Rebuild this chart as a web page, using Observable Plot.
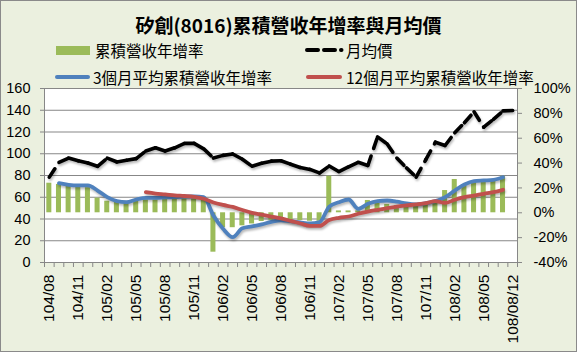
<!DOCTYPE html>
<html><head><meta charset="utf-8">
<script src="https://cdn.jsdelivr.net/npm/d3@7"></script>
<script src="https://cdn.jsdelivr.net/npm/@observablehq/plot@0.6"></script>
<style>
body{margin:0;background:#fff;}
#chart{position:relative;width:577px;height:352px;background:#EBF0DF;overflow:hidden;}
#frame{position:absolute;left:0;top:0;width:575px;height:350px;border:1px solid #8a8a8a;pointer-events:none;}
#title{position:absolute;left:0;width:577px;top:12px;line-height:26px;text-align:center;font-family:"Noto Sans CJK TC";font-weight:bold;font-size:19px;color:#000;}
.lg{position:absolute;font-family:"Noto Sans CJK TC";font-size:15.5px;line-height:20px;color:#000;white-space:nowrap;}
.sw{position:absolute;}
#plot{position:absolute;left:0;top:80px;}
</style>
</head><body>
<div id="chart">
  <div id="title">矽創(8016)累積營收年增率與月均價</div>
  <div class="sw" style="left:56px;top:46px;width:34px;height:9px;background:#9BBB59;"></div>
  <div class="lg" style="left:95px;top:40px;">累積營收年增率</div>
  <svg class="sw" style="left:304px;top:44px;" width="42" height="12"><line x1="3" y1="6" x2="39" y2="6" stroke="#000" stroke-width="4" stroke-linecap="round" stroke-dasharray="11,6,11,6,0.5,10"/></svg>
  <div class="lg" style="left:346px;top:40px;">月均價</div>
  <div class="sw" style="left:55px;top:75px;width:35px;height:4px;border-radius:2px;background:#4F81BD;"></div>
  <div class="lg" style="left:93px;top:67px;">3個月平均累積營收年增率</div>
  <div class="sw" style="left:306px;top:75px;width:36px;height:4px;border-radius:2px;background:#C0504D;"></div>
  <div class="lg" style="left:346px;top:67px;">12個月平均累積營收年增率</div>
  <div id="plot"></div>
  <div id="frame"></div>
</div>
<script>
const months = ["104/08","104/09","104/10","104/11","104/12","105/01","105/02","105/03","105/04","105/05","105/06","105/07","105/08","105/09","105/10","105/11","105/12","106/01","106/02","106/03","106/04","106/05","106/06","106/07","106/08","106/09","106/10","106/11","106/12","107/01","107/02","107/03","107/04","107/05","107/06","107/07","107/08","107/09","107/10","107/11","107/12","108/01","108/02","108/03","108/04","108/05","108/06","108/07","108/08/12"];

// 累積營收年增率 (%)
const cumYoY = [23.8,22.8,21.2,20.6,20.2,11.8,9.3,8.3,8.8,9.6,10.4,10.4,11,11,11,11,10.6,-31.7,-12,-12,-10.5,-9,-7,-6,-5.5,-6,-6.2,-6.8,-6.8,29.4,1.5,1.5,1.5,9.9,7.5,6.7,5.9,5.9,7.2,7.7,8.3,17.9,26.8,21.6,25.5,26.5,26.6,29.3,null];

// 月均價
const price = [78.5,92,96,93.5,91.5,88.5,96,92.5,94,95.5,102.5,105.5,102.5,105.5,109.5,109.5,104.5,96,98.5,99.8,95,88.5,91.3,93.2,93.5,90.4,87.3,85.6,82.3,88.8,83.5,88,92.2,89.2,115.5,109,96,87,78.5,94.5,110.6,107.6,119.3,128.5,138.6,124.4,131.6,139.4,139.8];

// 3個月平均累積營收年增率 (%)
const avg3 = [null,23.8,22.5,22,22,17.9,12.6,9.4,8.5,10.7,12,12,12.4,12.6,13.1,13.2,12.6,-2.2,-12.9,-19.6,-12.5,-11,-9.3,-7.3,-6,-6.8,-7.8,-8.6,-7.5,5,8.5,10.7,3.2,7.2,9.4,9.9,9,7.5,6.8,7.7,9.4,12.6,17.9,22.8,25.5,26,26.5,28.6,null];

// 12個月平均累積營收年增率 (%)
const avg12 = [null,null,null,null,null,null,null,null,null,null,16.6,15.5,14.8,14,13.5,12.8,11.3,8.3,6.3,4.7,2.2,0,-1.5,-3,-4.5,-6.5,-8.6,-10.5,-10.6,-5.8,-4,-3,-0.8,1,2.4,3.7,5,5.9,6.7,7.7,9.4,7.9,10.5,12.6,13.9,15.3,16.6,18.5,null];

const leftTicks = [0,20,40,60,80,100,120,140,160];
const rightTicks = [-40,-20,0,20,40,60,80,100];
const labelIdx = d3.range(0, months.length, 3);

// map % (right axis, -40..100) onto left axis units (0..160)
const pctToY = d3.scaleLinear().domain([-40,100]).range([0,160]);

const idx = d3.range(months.length);
const bars = idx.filter(i => cumYoY[i] != null).map(i => ({i, v: cumYoY[i]}));
const l3 = idx.map(i => ({i, v: avg3[i]}));
const l12 = idx.map(i => ({i, v: avg12[i]}));
const pr = idx.map(i => ({i, v: price[i]}));
const prPairs = d3.pairs(pr);
const grid = "#878787";

const chart = Plot.plot({
  width: 577, height: 272,
  marginTop: 8, marginBottom: 90, marginLeft: 44, marginRight: 60,
  style: {background: "transparent", fontFamily: "Liberation Sans, Arial, sans-serif", fontSize: "14.5px", color: "#000", overflow: "visible"},
  x: {type: "linear", domain: [-0.5, months.length - 0.5]},
  y: {domain: [0, 160], nice: false},
  marks: [
    Plot.frame({fill: "white", stroke: "none"}),
    Plot.ruleY(leftTicks.slice(1), {stroke: grid, strokeWidth: 1}),
    Plot.rectY(bars, {x1: d => d.i - 0.26, x2: d => d.i + 0.26, y1: () => pctToY(0), y2: d => pctToY(d.v), fill: "#9BBB59"}),
    Plot.line(l3, {x: "i", y: d => d.v == null ? NaN : pctToY(d.v), stroke: "#4F81BD", strokeWidth: 3.8, curve: "monotone-x"}),
    Plot.line(l12, {x: "i", y: d => d.v == null ? NaN : pctToY(d.v), stroke: "#C0504D", strokeWidth: 3.8, curve: "monotone-x"}),
    Plot.link(prPairs, {x1: d => d[0].i, y1: d => d[0].v, x2: d => d[1].i, y2: d => d[1].v, stroke: "#000", strokeWidth: 3.6, strokeDasharray: "10,8", strokeLinecap: "round"}),
    Plot.ruleX([-0.5, months.length - 0.5], {stroke: grid, strokeWidth: 1}),
    Plot.ruleY([0], {stroke: grid, strokeWidth: 1}),
    Plot.axisY(leftTicks, {anchor: "left", tickSize: 4, tickPadding: 10, stroke: grid, label: null}),
    Plot.axisY(rightTicks.map(t => pctToY(t)), {anchor: "right", tickSize: 4, tickPadding: 12, stroke: grid, label: null, tickFormat: d => Math.round(pctToY.invert(d)) + "%"}),
    Plot.axisX(d3.range(-0.5, months.length, 1), {anchor: "bottom", tickSize: 5, tickFormat: () => "", stroke: grid, label: null}),
    Plot.axisX(labelIdx, {anchor: "bottom", tickSize: 0, tickPadding: 12, tickRotate: -90, tickFormat: i => months[i], label: null, fontSize: 15.5})
  ]
});
chart.querySelectorAll('g[aria-label="line"], g[aria-label="link"]').forEach(g => {
  g.style.filter = "drop-shadow(1px 2px 1.2px rgba(0,0,0,0.28))";
});
document.getElementById("plot").appendChild(chart);
</script>
</body></html>
